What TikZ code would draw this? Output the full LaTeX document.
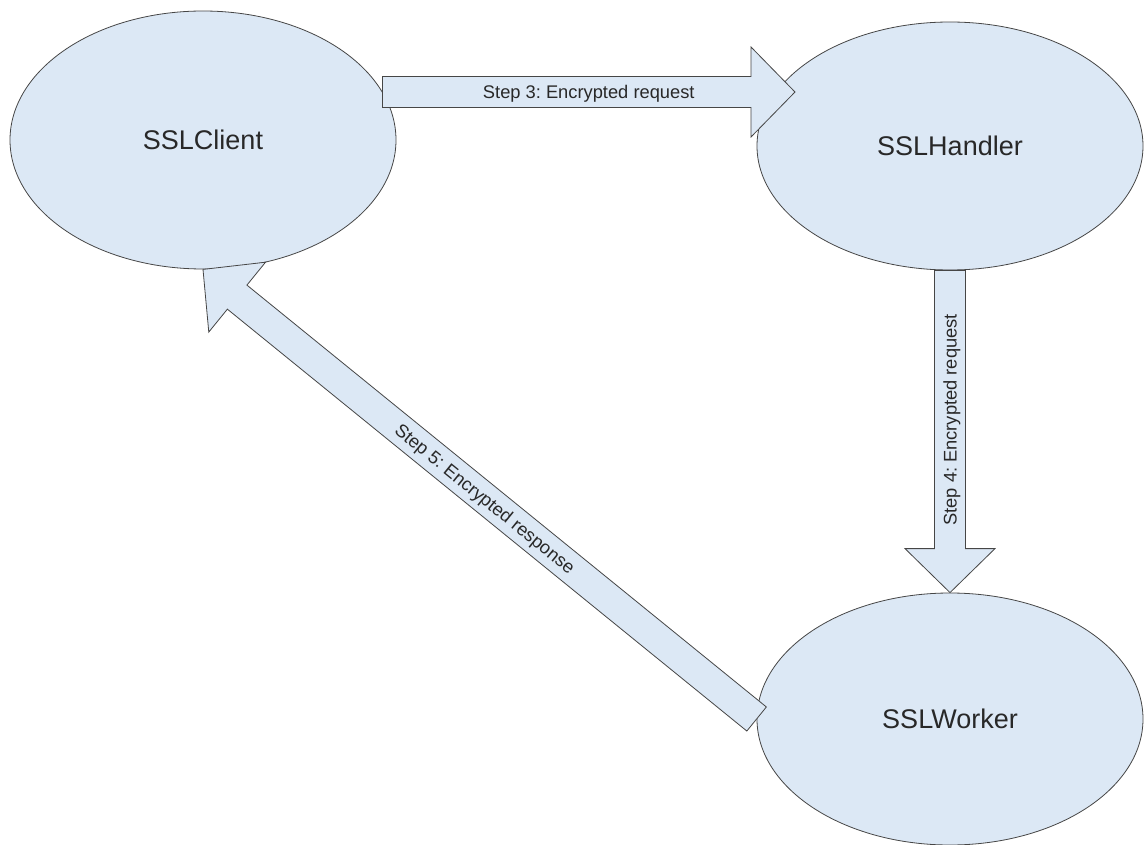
\documentclass[tikz,border=0pt]{standalone}
\usepackage{fontspec}
\setmainfont{Liberation Sans}
\usetikzlibrary{shapes.geometric,calc}
\frenchspacing

\definecolor{bubble}{RGB}{220,232,245}
\definecolor{ink}{RGB}{40,40,40}
\definecolor{edge}{RGB}{70,70,70}

\tikzset{
  party/.style={ellipse, draw=edge, line width=0.8pt, fill=bubble,
    minimum width=386pt, inner sep=0pt, text=ink,
    font=\fontsize{27}{32}\selectfont},
  blockarrow/.style={draw=edge, line width=0.8pt, fill=bubble, line join=miter},
  steplabel/.style={text=ink, font=\fontsize{18.3}{22}\selectfont,
    inner sep=0pt, text depth=0pt},
}

% Block arrow from #1 (tail) to #2 (tip): shaft 31pt wide, head 90pt wide, 44pt long
\newcommand\blockarrowpath[2]{%
  \coordinate (ba-head) at ($(#2)!44pt!(#1)$);
  \draw[blockarrow]
    ($(#1)!15.5pt!90:(#2)$) -- ($(ba-head)!15.5pt!-90:(#1)$)
    -- ($(ba-head)!45pt!-90:(#1)$) -- (#2)
    -- ($(ba-head)!45pt!90:(#1)$) -- ($(ba-head)!15.5pt!90:(#1)$)
    -- ($(#1)!15.5pt!-90:(#2)$) -- cycle;}

\begin{document}
\begin{tikzpicture}[x=1pt, y=-1pt]
  \fill[white] (0,0) rectangle (1144,845);
  \useasboundingbox (0,0) rectangle (1144,845);

  % the three parties
  \node[party, minimum height=258pt] (client)  at (203,140) {SSLClient};
  \node[party, minimum height=248pt] (handler) at (950,146) {SSLHandler};
  \node[party, minimum height=252pt] (worker)  at (950,719) {SSLWorker};

  % message flow
  \coordinate (h3) at (795,92);
  \coordinate (t3) at (client.15 |- h3);
  \blockarrowpath{t3}{h3}
  \blockarrowpath{handler.south}{worker.north}
  \blockarrowpath{worker.west}{client.south}

  % step labels
  \path (t3) -- (h3)
    node[steplabel, pos=0.5] {Step 3: Encrypted request};
  \path (handler.south) -- (worker.north)
    node[steplabel, pos=0.464, rotate=90] {Step 4: Encrypted request};
  \path (worker.west) -- (client.south)
    node[steplabel, pos=0.49, sloped] {Step 5: Encrypted response};
\end{tikzpicture}
\end{document}
